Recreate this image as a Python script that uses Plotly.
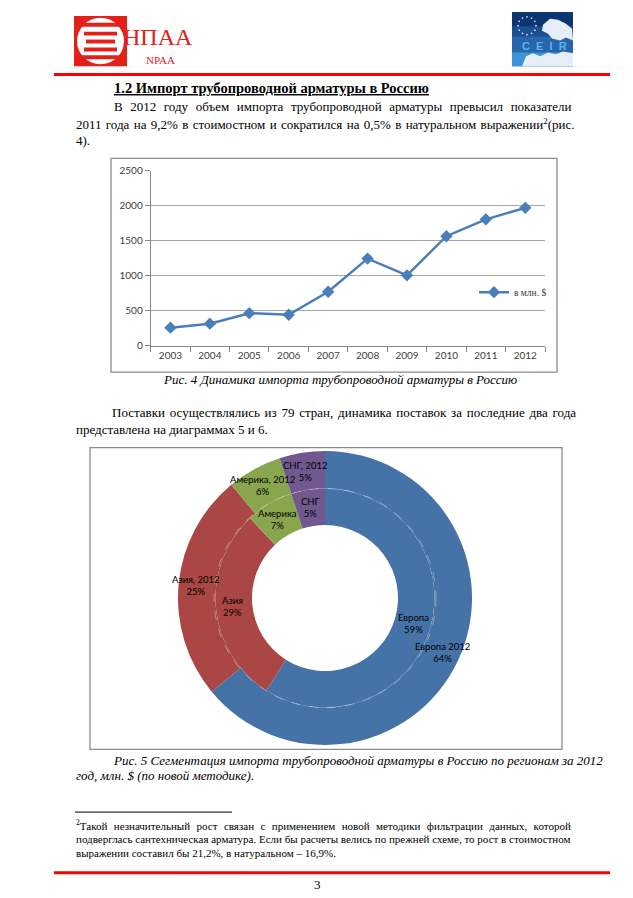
import math
import plotly.graph_objects as go

W, H = 633, 898
SERIF = "Liberation Serif"
SANS = "Lato"

# ---------------- data ----------------
years = ["2003", "2004", "2005", "2006", "2007", "2008", "2009", "2010", "2011", "2012"]
import_musd = [258, 315, 465, 442, 771, 1245, 1006, 1565, 1806, 1970]
series_name = "в млн. $"
y_ticks = [0, 500, 1000, 1500, 2000, 2500]

regions = ["Европа", "Азия", "Америка", "СНГ"]
outer_names = ["Европа 2012", "Азия, 2012", "Америка, 2012", "СНГ, 2012"]
share_2012 = [64, 25, 6, 5]
share_prev = [59, 29, 7, 5]
region_colors = ["#4572A7", "#AA4643", "#89A54E", "#71588F"]

LINE_COLOR = "#4A7EBB"
AX = "#868686"
GRID = "#A6A6A6"
TICK = "#404040"
RED = "#FF0000"

EN = "\u2002"      # en space
THREE = "\u2004"   # three-per-em space
THIN = "\u2009"    # thin space
HAIR = "\u200A"    # hair space


def X(x):
    return x / W


def Y(y):
    return 1 - y / H


fig = go.Figure()

# ---------------- line chart ----------------
fig.add_trace(go.Scatter(
    x=years, y=import_musd, name=series_name, mode="lines+markers",
    line=dict(color=LINE_COLOR, width=2.5),
    marker=dict(symbol="diamond", size=9.5, color=LINE_COLOR),
    hoverinfo="skip",
))

# ---------------- donut ----------------
CX, CY, R_OUT, R_MID, R_IN = 325, 599, 149, 111, 74


def dom(r):
    return dict(x=[X(CX - r), X(CX + r)], y=[Y(CY + r), Y(CY - r)])


fig.add_trace(go.Pie(
    values=share_2012, labels=outer_names, hole=R_MID / R_OUT, domain=dom(R_OUT),
    sort=False, direction="clockwise", rotation=0,
    marker=dict(colors=region_colors, line=dict(width=0)),
    textinfo="none", hoverinfo="skip", showlegend=False,
))
fig.add_trace(go.Pie(
    values=share_prev, labels=regions, hole=R_IN / R_MID, domain=dom(R_MID),
    sort=False, direction="clockwise", rotation=0,
    marker=dict(colors=region_colors, line=dict(width=0)),
    textinfo="none", hoverinfo="skip", showlegend=False,
))

annotations = []


def txt(x, y, s, size=13, anchor="left", family=SERIF, color="#000000"):
    annotations.append(dict(
        x=X(x), y=Y(y), xref="paper", yref="paper", text=s, showarrow=False,
        xanchor=anchor, yanchor="middle", borderpad=0,
        font=dict(family=family, size=size, color=color),
    ))


def ring_labels(values, names, r):
    total = sum(values)
    cum = 0
    for v, n in zip(values, names):
        mid = (cum + v / 2) / total * 2 * math.pi
        cum += v
        lx = CX + r * math.sin(mid)
        ly = CY - r * math.cos(mid)
        txt(lx, ly, f"{n}<br>{round(v / total * 100)}%", size=9.5, anchor="center", family=SANS)


ring_labels(share_2012, outer_names, (R_OUT + R_MID) / 2)
ring_labels(share_prev, regions, (R_MID + R_IN) / 2)

# ---------------- document text ----------------
txt(113, 82, "<b><u>1.2 Импорт трубопроводной арматуры в Россию</u></b>", size=14.5)

p1 = "В 2012 году объем импорта трубопроводной арматуры превысил показатели".split(" ")
txt(113, 101, (EN + HAIR).join(p1))
p2 = "2011 года на 9,2% в стоимостном и сократился на 0,5% в натуральном выражении<sup>2</sup>(рис.".split(" ")
txt(75, 119, (" " + HAIR).join(p2))
txt(75, 135, "4).")

txt(340, 378, "<i>Рис. 4 Динамика импорта трубопроводной арматуры в Россию</i>", anchor="center")

p3 = "Поставки осуществлялись из 79 стран, динамика поставок за последние два года".split(" ")
txt(111, 411, (THIN + HAIR + HAIR).join(p3))
txt(75, 428, "представлена на диаграммах 5 и 6.")

txt(112, 764, "<i>Рис. 5 Сегментация импорта трубопроводной арматуры в Россию по регионам за 2012</i>")
txt(75, 779, "<i>год, млн. $ (по новой методике).</i>")

f1 = ("<sup>2</sup>Такой незначительный рост связан с применением новой методики "
      "фильтрации данных, которой").split(" ")
txt(75, 829, (" " + THREE).join(f1), size=11)
txt(75, 843, "подверглась сантехническая арматура. Если бы расчеты велись по прежней схеме, "
             "то рост в стоимостном", size=11)
txt(75, 857, "выражении составил бы 21,2%, в натуральном – 16,9%.", size=11)

txt(317, 889, "3", anchor="center")

# logos text
txt(158, 30, "НПАА", size=24, anchor="center", family="Liberation Sans Narrow", color="#E32119")
txt(160, 54, "NPAA", size=11, anchor="center", family="Liberation Sans Narrow", color="#E32119")
txt(544, 40, "<b>C  E  I  R</b>", size=11, anchor="center", family="Liberation Sans", color="#5AB4F0")

# ---------------- shapes ----------------
shapes = []


def rect(x0, y0, x1, y1, fill=None, line=None, lw=0, layer="above"):
    shapes.append(dict(type="rect", xref="paper", yref="paper", x0=X(x0), x1=X(x1), y0=Y(y1), y1=Y(y0),
                       fillcolor=fill if fill else "rgba(0,0,0,0)",
                       line=dict(color=line if line else "rgba(0,0,0,0)", width=lw), layer=layer))


def hline(x0, x1, y, color, width):
    shapes.append(dict(type="line", xref="paper", yref="paper", x0=X(x0), x1=X(x1), y0=Y(y), y1=Y(y),
                       line=dict(color=color, width=width)))


def circle(x0, y0, x1, y1, fill=None, line=None, lw=0, dash="solid"):
    shapes.append(dict(type="circle", xref="paper", yref="paper", x0=X(x0), x1=X(x1), y0=Y(y1), y1=Y(y0),
                       fillcolor=fill if fill else "rgba(0,0,0,0)",
                       line=dict(color=line if line else "rgba(0,0,0,0)", width=lw, dash=dash)))


def poly(points, fill):
    path = "M " + " L ".join(f"{X(px)},{Y(py)}" for px, py in points) + " Z"
    shapes.append(dict(type="path", xref="paper", yref="paper", path=path, fillcolor=fill,
                       line=dict(width=0)))


# chart frames
rect(111, 153.5, 557, 370, line="#8C8C8C", lw=1.3)
rect(90, 446.5, 562, 752.5, line="#8C8C8C", lw=1.3)

# dashed ring separator
circle(CX - R_MID, CY - R_MID, CX + R_MID, CY + R_MID, line="rgba(255,255,255,0.45)", lw=0.8, dash="dash")

# red rules
hline(54, 610, 68.5, RED, 3)
hline(54, 610, 877.5, RED, 3)
# footnote separator
hline(75, 232, 816, "#000000", 1)

# NPAA logo
rect(74, 9, 127, 60, fill="#E32119")
circle(77, 11, 124, 58, fill="#FFFFFF")
for ya, yb, xa, xb in [(16, 20, 80, 121), (25, 29, 84, 117), (33, 37, 86, 115), (41, 45, 84, 117), (49, 53, 80, 121)]:
    rect(xa, ya, xb, yb, fill="#E32119")

# CEIR logo
rect(512, 5, 573, 60, fill="#2766AA")
rect(512, 5, 573, 20, fill="#0D3570")
rect(512, 20, 573, 30, fill="#1B4F8F")
rect(512, 46, 573, 60, fill="#3E95D6")
for k in range(12):
    a = k / 12 * 2 * math.pi
    sx = 527 + 9 * math.sin(a)
    sy = 19 - 9 * math.cos(a)
    circle(sx - 0.9, sy - 0.9, sx + 0.9, sy + 0.9, fill="#D0DCEC")
poly([(543, 18), (550, 12), (558, 13), (566, 17), (572, 22), (573, 34), (566, 31), (560, 34),
      (552, 32), (548, 27), (542, 24)], "#E6EEF7")
poly([(522, 60), (526, 50), (533, 47), (540, 50), (548, 46), (556, 48), (563, 45), (573, 47), (573, 60)],
     "#E6EEF7")

fig.update_layout(
    width=W, height=H, margin=dict(l=0, r=0, t=0, b=0),
    paper_bgcolor="white", plot_bgcolor="white",
    xaxis=dict(domain=[X(150.7), X(545)], type="category", range=[-0.5, 9.5],
               showline=True, linecolor=AX, linewidth=1, ticks="outside", tickson="boundaries",
               ticklen=5, tickcolor=AX, showgrid=False, zeroline=False,
               tickfont=dict(family=SANS, size=10, color=TICK), fixedrange=True),
    yaxis=dict(domain=[Y(343.3), Y(166)], range=[0, 2500], tickvals=y_ticks,
               showline=True, linecolor=AX, linewidth=1, ticks="outside", ticklen=5, tickcolor=AX,
               showgrid=True, gridcolor=GRID, gridwidth=1, zeroline=False,
               tickfont=dict(family=SANS, size=10, color=TICK), fixedrange=True),
    legend=dict(x=X(474), y=Y(289), xanchor="left", yanchor="middle", bgcolor="rgba(0,0,0,0)",
                font=dict(family="Liberation Sans Narrow", size=9.5, color=TICK), itemwidth=30,
                borderwidth=0),
    showlegend=True,
    shapes=shapes,
    annotations=annotations,
)

fig.write_html(
    "out.html",
    config={"displayModeBar": False},
    post_script="document.body.style.margin='0';document.body.style.overflow='hidden';",
)
